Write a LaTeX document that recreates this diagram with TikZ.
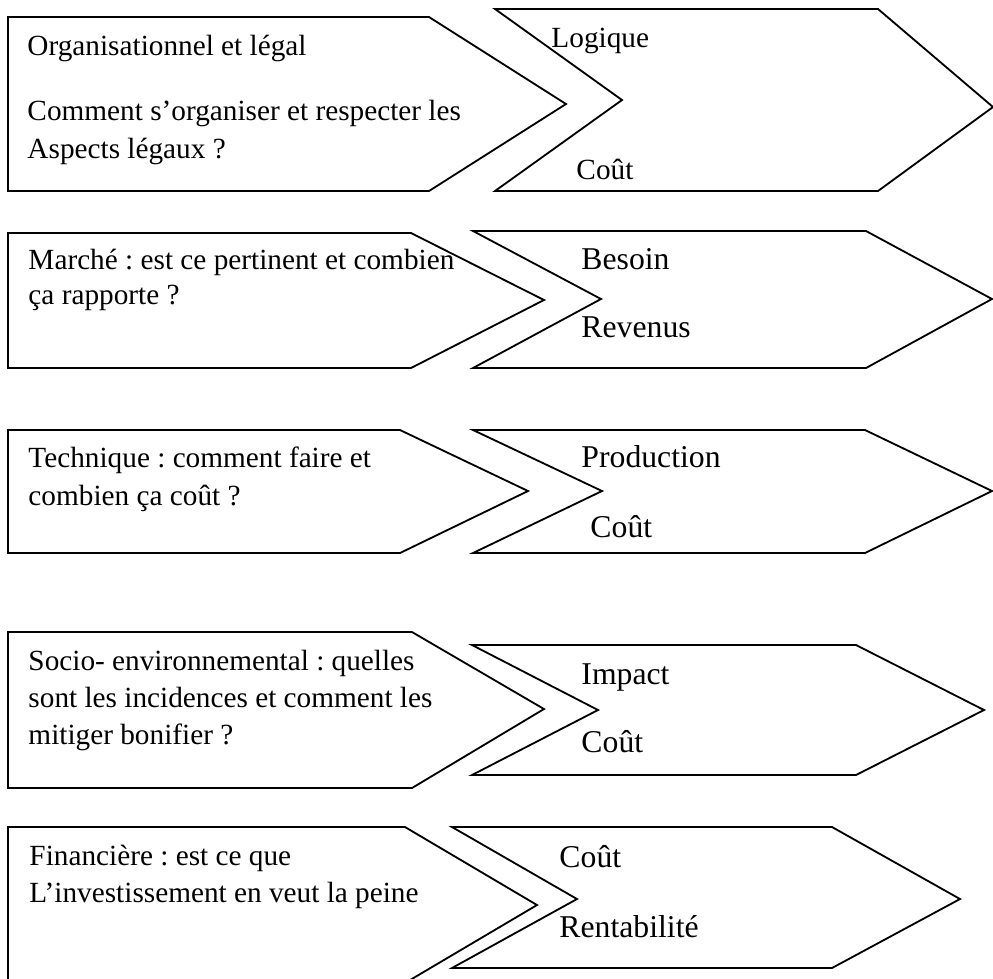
\documentclass[tikz,border=0pt]{standalone}
\usepackage{fontspec}
\setmainfont{Liberation Serif}
\usepackage{tikz}
\frenchspacing

\begin{document}
\begin{tikzpicture}[x=0.41pt,y=-0.41pt,
    bloc/.style={draw,line width=0.75pt,line join=miter},
    txt/.style={anchor=base west,inner sep=0pt,font=\fontsize{12}{14}\selectfont},
    big/.style={txt,font=\fontsize{13}{15}\selectfont}]
        \useasboundingbox (0,0) rectangle (993,978);

        % row 1
        \draw[bloc] (8,17) -- (429,17) -- (566,104) -- (429,191) -- (8,191) -- cycle;
        \draw[bloc] (495,9) -- (878,9) -- (993,107) -- (878,191) -- (495,191) -- (622,100) -- cycle;
        \path
        (27,55) node[txt](org) {Organisationnel et légal}
        (27,120) node[txt](orgq) {Comment s’organiser et respecter les}
        (27,158) node[txt](orgq2) {Aspects légaux ?}
        (551,47) node[txt](logique) {Logique}
        (576,179) node[txt](cout1) {Coût}
        ;

        % row 2
        \draw[bloc] (8,233) -- (411,233) -- (544,300) -- (411,368) -- (8,368) -- cycle;
        \draw[bloc] (473,231) -- (866,231) -- (992,299) -- (866,368) -- (473,368) -- (601,299) -- cycle;
        \path
        (28,269) node[txt](marche) {Marché : est ce pertinent et combien}
        (28,304) node[txt](marche2) {ça rapporte ?}
        (581,269) node[big](besoin) {Besoin}
        (581,337) node[big](revenus) {Revenus}
        ;

        % row 3
        \draw[bloc] (8,430) -- (400,430) -- (528,491) -- (400,553) -- (8,553) -- cycle;
        \draw[bloc] (473,430) -- (865,430) -- (992,491) -- (865,553) -- (473,553) -- (602,491) -- cycle;
        \path
        (28,467) node[txt](tech) {Technique : comment faire et}
        (28,505) node[txt](tech2) {combien ça coût ?}
        (581,467) node[big](prod) {Production}
        (590,537) node[big](cout3) {Coût}
        ;

        % row 4
        \draw[bloc] (8,632) -- (412,632) -- (544,709) -- (412,788) -- (8,788) -- cycle;
        \draw[bloc] (472,645) -- (856,645) -- (984,710) -- (856,775) -- (472,775) -- (598,710) -- cycle;
        \path
        (28,670) node[txt](socio) {Socio- environnemental : quelles}
        (28,707) node[txt](socio2) {sont les incidences et comment les}
        (28,744) node[txt](socio3) {mitiger bonifier ?}
        (581,684) node[big](impact) {Impact}
        (581,752) node[big](cout4) {Coût}
        ;

        % row 5
        \draw[bloc] (8,827) -- (405,827) -- (537,905) -- (405,983) -- (8,983) -- cycle;
        \draw[bloc] (452,827) -- (832,827) -- (960,899) -- (832,968) -- (452,968) -- (577,899) -- cycle;
        \path
        (29,865) node[txt](fin) {Financière : est ce que}
        (29,902) node[txt](fin2) {L’investissement en veut la peine}
        (559,867) node[big](cout5) {Coût}
        (559,937) node[big](renta) {Rentabilité}
        ;
      \end{tikzpicture}
\end{document}
